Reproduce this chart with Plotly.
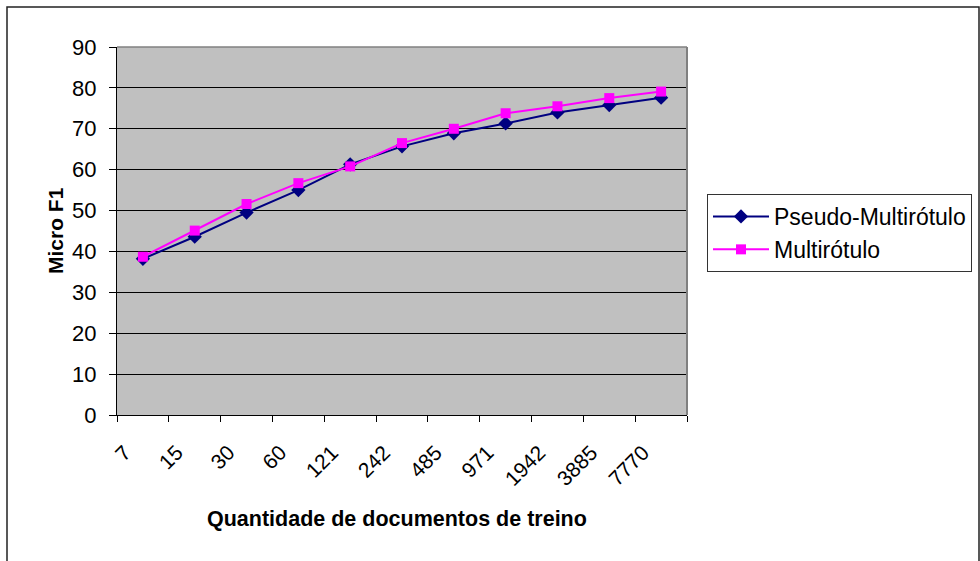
import plotly.graph_objects as go

categories = ["7", "15", "30", "60", "121", "242", "485", "971", "1942", "3885", "7770"]
pseudo_multirotulo = [38.2, 43.6, 49.5, 55.0, 61.3, 65.7, 68.9, 71.3, 74.0, 75.8, 77.6]
multirotulo = [38.7, 45.1, 51.6, 56.7, 60.8, 66.5, 70.0, 73.8, 75.5, 77.5, 79.1]
y_ticks = [0, 10, 20, 30, 40, 50, 60, 70, 80, 90]

FONT = "Liberation Sans, Arial, sans-serif"

fig = go.Figure()
fig.add_trace(go.Scatter(
    x=categories, y=pseudo_multirotulo, name="Pseudo-Multirótulo",
    mode="lines+markers", legendgroup="a",
    line=dict(color="#000080", width=2),
    marker=dict(symbol="diamond", size=11, color="#000080"),
))
fig.add_trace(go.Scatter(
    x=categories, y=multirotulo, name="Multirótulo",
    mode="lines+markers", legendgroup="b",
    line=dict(color="#FF00FF", width=2),
    marker=dict(symbol="square", size=10, color="#FF00FF"),
))

fig.update_layout(
    width=980, height=561,
    margin=dict(l=117, r=293, t=47, b=146, autoexpand=False),
    paper_bgcolor="white",
    plot_bgcolor="#C0C0C0",
    font=dict(family=FONT, size=21, color="black"),
    showlegend=True,
    legend=dict(
        xref="container", yref="container",
        x=707 / 980, y=1 - 194 / 561,
        xanchor="left", yanchor="top",
        bgcolor="white", bordercolor="#333333", borderwidth=1,
        font=dict(family=FONT, size=23, color="black"),
        tracegroupgap=0, itemwidth=56,
    ),
    xaxis=dict(
        type="category", range=[-0.5, 10.5],
        tickson="boundaries", ticks="outside", ticklen=6, tickcolor="black",
        tickangle=-45, showgrid=False, zeroline=False,
        showline=True, linecolor="black", linewidth=1,
        tickfont=dict(family=FONT, size=21),
        ticklabelstandoff=16, ticklabelshift=-18,
    ),
    yaxis=dict(
        range=[0, 90], tickvals=y_ticks, ticks="outside", ticklen=7,
        tickcolor="black", showgrid=True, gridcolor="black", gridwidth=1,
        zeroline=False, showline=True, linecolor="black", linewidth=1,
        tickfont=dict(family=FONT, size=22),
        ticklabelstandoff=8,
    ),
)

# plot area top/right border (gray)
fig.add_shape(type="line", xref="paper", yref="paper", x0=0, x1=1, y0=1, y1=1,
              line=dict(color="#808080", width=1.5))
fig.add_shape(type="line", xref="paper", yref="paper", x0=1, x1=1, y0=0, y1=1,
              line=dict(color="#808080", width=2))

# outer chart border
fig.add_shape(type="rect", xref="paper", yref="paper",
              xsizemode="pixel", xanchor=0, x0=-110, x1=862,
              ysizemode="pixel", yanchor=0, y0=-200, y1=408,
              line=dict(color="#222222", width=1.5), fillcolor="rgba(0,0,0,0)")

# axis titles
fig.add_annotation(text="<b>Quantidade de documentos de treino</b>",
                   xref="paper", yref="paper", x=(397 - 117) / 570, y=0,
                   xanchor="center", yanchor="middle", yshift=-104,
                   showarrow=False, font=dict(family=FONT, size=21.5, color="black"))
fig.add_annotation(text="<b>Micro F1</b>",
                   xref="paper", yref="paper", x=0, y=0.5, textangle=-90,
                   xanchor="center", yanchor="middle", xshift=-(117 - 55),
                   showarrow=False, font=dict(family=FONT, size=21, color="black"))

fig.write_html("out.html", config={"displayModeBar": False},
               post_script="document.body.style.margin='0';")
